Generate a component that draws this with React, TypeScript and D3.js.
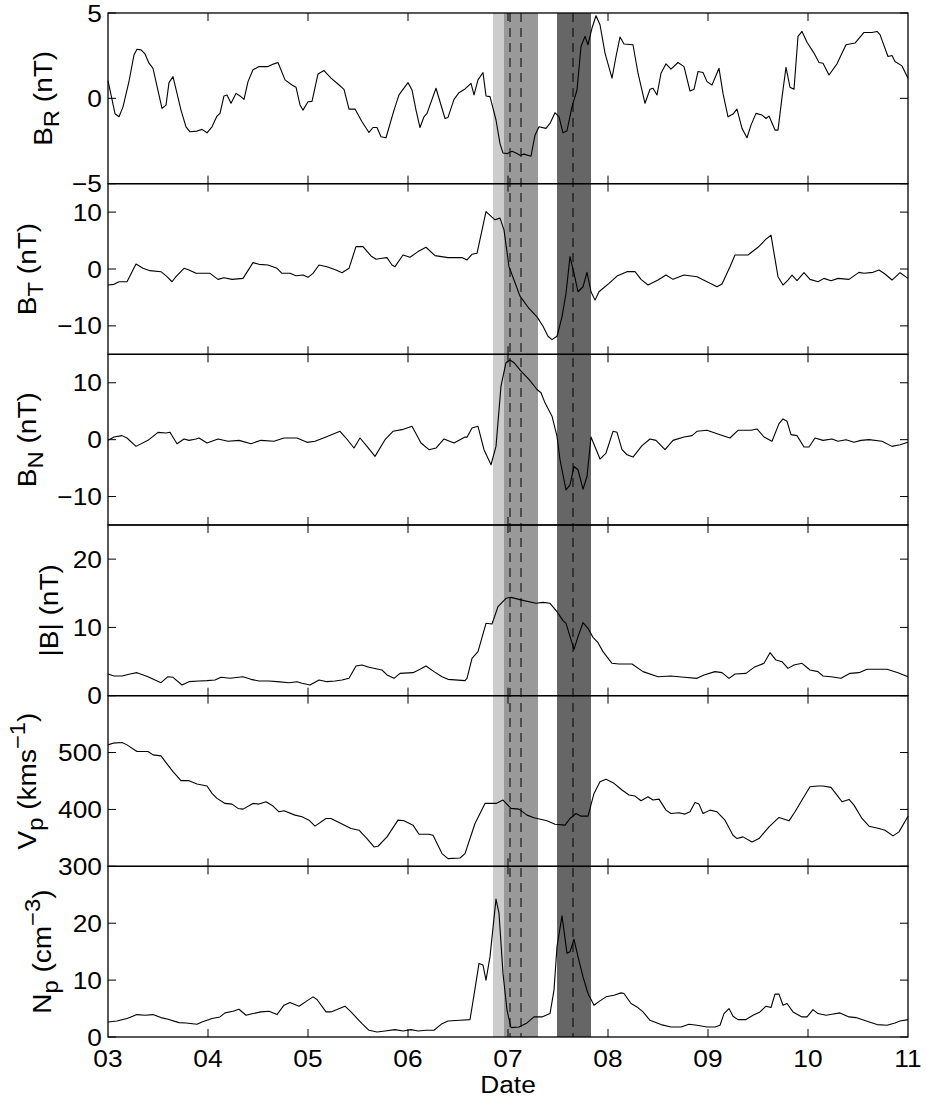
import React from 'react';
import * as d3 from 'd3';

// overall page / plot frame
const width = 926;
const height = 1099;
const margin = {top: 13, right: 18, bottom: 62, left: 108};
const font = 'Liberation Sans, Arial, Helvetica, sans-serif';
// the original text is set a little wider than Liberation Sans
const stretch = 1.12;

// x axis: days of the month
const dayTicks = [3, 4, 5, 6, 7, 8, 9, 10, 11];
const dayLabels = ['03', '04', '05', '06', '07', '08', '09', '10', '11'];

// shaded intervals [start, end, colour] and dashed markers (days)
const bands: [number, number, string][] = [
    [6.85, 6.96, '#cccccc'],
    [6.96, 7.30, '#999999'],
    [7.49, 7.83, '#666666'],
];
const markers = [7.02, 7.13, 7.65];

// series: [day, value]
const brData = [
    [3.00, 1.04], [3.07, -0.9], [3.11, -1.08], [3.15, -0.5], [3.21, 1.0], [3.26, 2.55], [3.29, 2.88], [3.33, 2.84],
    [3.37, 2.6], [3.41, 2.06], [3.45, 1.76], [3.54, -0.59], [3.58, -0.4], [3.61, 0.92], [3.65, 1.27], [3.73, -0.69],
    [3.78, -1.67], [3.82, -1.96], [3.89, -1.92], [3.94, -1.82], [3.99, -2.02], [4.04, -1.67], [4.09, -1.04], [4.12, -0.88],
    [4.16, 0.14], [4.19, 0.2], [4.23, -0.29], [4.28, 0.29], [4.32, 0.14], [4.36, -0.06], [4.40, 0.98], [4.45, 1.67],
    [4.51, 1.86], [4.60, 1.86], [4.66, 2.02], [4.70, 2.1], [4.77, 1.08], [4.84, 0.78], [4.88, 0.65], [4.92, -0.39],
    [4.95, -0.69], [5.00, -0.2], [5.04, -0.18], [5.10, 1.43], [5.16, 1.63], [5.23, 1.18], [5.30, 0.84], [5.36, 0.53],
    [5.41, -0.63], [5.47, -0.63], [5.54, -1.37], [5.61, -2.0], [5.65, -1.71], [5.69, -1.71], [5.73, -2.25], [5.78, -2.31],
    [5.86, -0.69], [5.91, 0.2], [6.00, 0.92], [6.04, 0.49], [6.08, -0.69], [6.12, -1.71], [6.16, -1.08], [6.19, -0.88],
    [6.28, 0.59], [6.37, -1.18], [6.40, -1.12], [6.46, -0.06], [6.51, 0.33], [6.57, 0.55], [6.63, 0.88], [6.66, 0.2],
    [6.70, 1.08], [6.75, 1.51], [6.78, 0.14], [6.82, 0.1], [6.88, -1.27], [6.92, -2.65], [6.95, -3.2], [6.99, -3.24],
    [7.04, -3.1], [7.08, -3.2], [7.12, -3.33], [7.16, -3.27], [7.23, -3.39], [7.27, -2.16], [7.31, -1.67], [7.38, -1.76],
    [7.42, -1.47], [7.47, -0.84], [7.51, -1.08], [7.55, -2.02], [7.59, -1.9], [7.64, -0.49], [7.69, 0.49], [7.73, 3.04],
    [7.77, 3.63], [7.80, 3.14], [7.84, 4.12], [7.88, 4.84], [7.92, 4.31], [7.97, 2.65], [8.04, 1.18], [8.08, 2.45],
    [8.12, 3.59], [8.16, 3.18], [8.25, 3.14], [8.30, 1.47], [8.37, -0.29], [8.42, 0.53], [8.45, 0.59], [8.49, 0.2],
    [8.53, 1.47], [8.58, 2.02], [8.63, 1.71], [8.70, 2.1], [8.76, 1.86], [8.82, 0.43], [8.86, 0.53], [8.90, 1.57],
    [8.95, 1.51], [8.99, 0.98], [9.04, 0.78], [9.11, 1.76], [9.15, 0.29], [9.20, -1.08], [9.25, -0.92], [9.29, -0.63],
    [9.34, -1.76], [9.39, -2.31], [9.43, -1.57], [9.48, -0.88], [9.54, -0.98], [9.58, -1.18], [9.61, -1.04], [9.67, -1.86],
    [9.70, -1.86], [9.74, 0.06], [9.78, 1.82], [9.82, 0.65], [9.86, 0.53], [9.90, 3.63], [9.94, 3.92], [9.99, 3.29],
    [10.06, 2.65], [10.11, 2.1], [10.15, 2.06], [10.21, 1.37], [10.29, 2.02], [10.38, 3.14], [10.47, 3.24], [10.56, 3.86],
    [10.64, 3.86], [10.69, 3.92], [10.72, 3.73], [10.80, 2.45], [10.84, 2.51], [10.87, 2.16], [10.94, 1.9], [11.00, 1.18],
];

const btData = [
    [3.00, -2.82], [3.06, -2.7], [3.11, -2.24], [3.19, -2.24], [3.28, 0.88], [3.35, 0.12], [3.42, -0.29], [3.53, -0.47],
    [3.59, -1.35], [3.64, -2.24], [3.68, -1.35], [3.76, 0.12], [3.81, -0.18], [3.88, -0.76], [4.02, -0.76], [4.10, -1.82],
    [4.16, -1.53], [4.24, -1.82], [4.35, -1.65], [4.45, 1.12], [4.51, 0.82], [4.60, 0.71], [4.69, 0.12], [4.74, -0.76],
    [4.82, -0.76], [4.88, -1.18], [4.95, -1.06], [5.00, -1.47], [5.05, -0.76], [5.11, 0.71], [5.19, 0.41], [5.28, -0.18],
    [5.34, -0.65], [5.41, 0.12], [5.48, 3.94], [5.55, 3.94], [5.63, 2.29], [5.68, 1.71], [5.74, 1.88], [5.79, 2.0],
    [5.84, 0.71], [5.87, 0.41], [5.95, 2.47], [6.02, 2.06], [6.10, 3.06], [6.18, 3.82], [6.27, 2.35], [6.40, 2.0],
    [6.54, 2.0], [6.59, 1.59], [6.64, 2.59], [6.69, 2.76], [6.78, 10.1], [6.87, 8.65], [6.92, 8.94], [6.96, 6.88],
    [7.01, 0.41], [7.06, -1.94], [7.12, -4.76], [7.21, -6.94], [7.29, -8.41], [7.35, -10.06], [7.40, -11.82], [7.44, -12.41],
    [7.49, -11.82], [7.54, -8.41], [7.58, -4.29], [7.62, 2.18], [7.66, -0.76], [7.70, -4.0], [7.75, -3.12], [7.79, -0.59],
    [7.83, -4.0], [7.87, -5.47], [7.91, -4.0], [8.01, -2.53], [8.09, -1.24], [8.19, -0.47], [8.27, -0.47], [8.33, -1.82],
    [8.40, -2.82], [8.50, -1.94], [8.58, -1.06], [8.65, -1.82], [8.76, -1.06], [8.89, -1.35], [8.99, -2.24], [9.09, -3.12],
    [9.14, -2.65], [9.22, 0.41], [9.27, 2.47], [9.40, 2.47], [9.50, 3.82], [9.58, 5.24], [9.63, 5.94], [9.70, -1.35],
    [9.75, -2.82], [9.80, -1.94], [9.84, -1.06], [9.89, -2.06], [9.96, -0.65], [10.02, -1.82], [10.10, -2.24], [10.16, -1.65],
    [10.23, -2.06], [10.30, -1.65], [10.41, -1.82], [10.51, -0.59], [10.56, -0.76], [10.65, -0.59], [10.71, -0.18], [10.77, -0.88],
    [10.84, -1.94], [10.92, -0.65], [11.00, -1.65],
];

const bnData = [
    [3.00, -0.12], [3.06, 0.47], [3.14, 0.71], [3.19, 0.29], [3.28, -1.18], [3.40, -0.12], [3.50, 1.29], [3.58, 1.18],
    [3.62, 1.29], [3.69, -0.71], [3.76, 0.12], [3.81, -0.12], [3.88, 0.12], [3.91, 0.29], [3.99, -0.59], [4.10, 0.12],
    [4.20, -0.29], [4.31, -0.12], [4.43, -0.71], [4.53, -0.12], [4.66, -0.29], [4.76, 0.29], [4.89, 0.29], [4.99, -0.47],
    [5.07, -0.29], [5.18, 0.47], [5.32, 1.47], [5.38, 0.29], [5.46, -1.47], [5.52, 0.29], [5.59, -1.18], [5.67, -2.94],
    [5.77, 0.0], [5.85, 1.47], [5.94, 1.76], [6.04, 2.35], [6.13, -0.59], [6.21, -1.76], [6.28, -1.47], [6.36, 0.12],
    [6.46, -0.59], [6.57, 0.47], [6.59, 0.41], [6.64, 2.06], [6.70, 2.35], [6.76, -1.76], [6.83, -4.41], [6.88, -1.18],
    [6.93, 9.41], [6.98, 13.53], [7.02, 14.0], [7.06, 13.53], [7.13, 12.06], [7.21, 10.59], [7.29, 8.82], [7.33, 8.24],
    [7.37, 6.47], [7.44, 4.12], [7.49, 0.59], [7.52, -3.53], [7.58, -8.82], [7.62, -7.94], [7.66, -4.71], [7.70, -5.29],
    [7.75, -8.71], [7.79, -6.47], [7.83, 0.47], [7.92, -3.41], [7.98, -2.35], [8.05, 1.47], [8.09, 1.29], [8.14, -1.76],
    [8.19, -2.65], [8.25, -3.06], [8.34, -1.06], [8.42, 0.12], [8.48, -0.12], [8.57, -1.76], [8.65, -0.12], [8.76, 0.47],
    [8.84, 0.71], [8.89, 1.47], [8.99, 1.65], [9.12, 0.88], [9.22, 0.29], [9.30, 1.65], [9.43, 1.65], [9.49, 1.88],
    [9.56, 0.47], [9.64, -0.29], [9.71, 2.82], [9.75, 3.65], [9.79, 3.24], [9.83, 0.88], [9.89, 0.71], [9.96, -1.29],
    [10.01, -1.29], [10.07, 0.29], [10.15, -0.12], [10.24, 0.12], [10.30, -0.29], [10.38, 0.0], [10.46, -0.47], [10.53, -0.12],
    [10.61, 0.0], [10.74, -0.29], [10.84, -1.18], [10.92, -0.88], [11.00, -0.47],
];

const bmagData = [
    [3.00, 3.17], [3.06, 2.88], [3.14, 2.88], [3.22, 3.17], [3.29, 3.37], [3.40, 2.78], [3.47, 2.29], [3.53, 1.9],
    [3.60, 2.78], [3.65, 2.69], [3.74, 1.56], [3.81, 2.05], [3.91, 2.15], [3.99, 2.2], [4.07, 2.29], [4.13, 2.69],
    [4.22, 2.54], [4.35, 2.78], [4.43, 2.39], [4.51, 2.15], [4.61, 2.15], [4.69, 2.05], [4.81, 1.9], [4.89, 2.05],
    [4.94, 1.81], [5.02, 1.56], [5.11, 2.29], [5.19, 2.05], [5.27, 2.15], [5.34, 2.29], [5.41, 2.54], [5.48, 4.35],
    [5.54, 4.49], [5.61, 4.15], [5.74, 3.76], [5.79, 3.03], [5.86, 2.54], [5.92, 3.27], [6.05, 3.37], [6.12, 3.86],
    [6.18, 4.35], [6.26, 3.52], [6.34, 2.78], [6.40, 2.39], [6.57, 2.2], [6.59, 2.54], [6.64, 5.47], [6.70, 6.45],
    [6.78, 10.6], [6.84, 10.5], [6.90, 13.04], [6.98, 14.26], [7.03, 14.4], [7.16, 13.92], [7.28, 13.53], [7.35, 13.67],
    [7.42, 13.53], [7.49, 12.3], [7.55, 10.99], [7.58, 10.6], [7.66, 6.79], [7.70, 8.64], [7.75, 10.69], [7.80, 9.86],
    [7.85, 8.54], [7.90, 7.76], [7.95, 6.45], [8.04, 4.74], [8.11, 4.64], [8.24, 4.64], [8.35, 3.52], [8.50, 2.78],
    [8.63, 2.88], [8.76, 2.69], [8.89, 2.54], [8.96, 3.03], [9.07, 3.52], [9.14, 3.37], [9.21, 2.54], [9.27, 3.17],
    [9.38, 3.27], [9.46, 4.15], [9.56, 4.74], [9.62, 6.3], [9.68, 5.22], [9.74, 4.98], [9.80, 4.0], [9.86, 4.49],
    [9.94, 4.74], [10.02, 3.76], [10.10, 3.52], [10.15, 2.88], [10.23, 2.78], [10.33, 2.54], [10.42, 3.27], [10.51, 3.37],
    [10.59, 3.86], [10.69, 3.86], [10.79, 3.86], [10.90, 3.37], [11.00, 2.78],
];

const vpData = [
    [3.00, 513.5], [3.05, 516.5], [3.14, 517.6], [3.19, 513.5], [3.29, 501.8], [3.40, 501.8], [3.45, 495.9], [3.53, 494.1],
    [3.58, 482.4], [3.65, 466.5], [3.73, 450.6], [3.81, 450.6], [3.89, 444.7], [3.99, 441.2], [4.04, 428.2], [4.09, 419.4],
    [4.17, 410.6], [4.24, 409.4], [4.30, 401.8], [4.35, 400.6], [4.45, 410.6], [4.51, 409.4], [4.58, 413.5], [4.65, 405.9],
    [4.71, 395.9], [4.76, 397.6], [4.87, 390.0], [4.94, 387.1], [5.01, 381.2], [5.07, 370.6], [5.18, 384.1], [5.23, 384.1],
    [5.33, 375.3], [5.43, 366.5], [5.51, 363.5], [5.59, 348.8], [5.66, 334.1], [5.70, 335.3], [5.79, 351.8], [5.90, 381.2],
    [5.96, 380.0], [6.05, 372.4], [6.11, 356.5], [6.21, 356.5], [6.25, 354.7], [6.34, 322.4], [6.40, 313.5], [6.52, 314.7],
    [6.57, 322.4], [6.67, 375.3], [6.77, 410.6], [6.88, 410.6], [6.95, 416.5], [7.03, 401.8], [7.11, 400.6], [7.19, 390.0],
    [7.26, 385.3], [7.39, 380.0], [7.47, 374.1], [7.57, 372.4], [7.62, 384.1], [7.68, 392.9], [7.73, 388.2], [7.80, 388.2],
    [7.86, 428.2], [7.92, 448.8], [7.98, 452.9], [8.06, 445.9], [8.14, 434.1], [8.21, 425.3], [8.27, 423.5], [8.33, 415.3],
    [8.40, 422.4], [8.45, 416.5], [8.51, 418.2], [8.58, 398.8], [8.63, 392.9], [8.71, 394.1], [8.77, 391.8], [8.82, 395.9],
    [8.87, 412.4], [8.91, 409.4], [8.95, 392.9], [9.02, 398.8], [9.09, 395.9], [9.17, 381.2], [9.25, 354.7], [9.29, 348.8],
    [9.35, 351.8], [9.44, 342.9], [9.51, 348.8], [9.61, 369.4], [9.71, 385.9], [9.81, 380.0], [9.87, 395.9], [9.94, 416.5],
    [10.02, 440.0], [10.10, 441.2], [10.15, 441.2], [10.23, 438.8], [10.29, 425.3], [10.34, 413.5], [10.41, 417.6], [10.46, 407.6],
    [10.54, 384.1], [10.61, 370.6], [10.71, 366.5], [10.77, 363.5], [10.85, 353.5], [10.91, 360.6], [11.00, 388.2],
];

const npData = [
    [3.00, 2.65], [3.09, 2.82], [3.19, 3.24], [3.29, 3.94], [3.37, 3.82], [3.45, 3.94], [3.53, 3.41], [3.60, 3.12],
    [3.71, 2.53], [3.78, 2.47], [3.89, 2.24], [3.94, 2.65], [4.04, 3.24], [4.12, 3.53], [4.17, 4.24], [4.25, 4.53],
    [4.31, 4.88], [4.38, 3.82], [4.45, 4.12], [4.53, 4.41], [4.61, 4.53], [4.69, 3.94], [4.76, 5.59], [4.82, 6.06],
    [4.91, 5.41], [4.99, 6.35], [5.05, 7.06], [5.09, 6.59], [5.18, 4.41], [5.23, 4.41], [5.29, 4.82], [5.37, 5.41],
    [5.43, 4.41], [5.54, 2.35], [5.61, 1.18], [5.69, 0.88], [5.77, 1.06], [5.87, 1.29], [5.95, 1.06], [6.03, 1.29],
    [6.10, 1.06], [6.18, 1.18], [6.26, 1.18], [6.34, 2.35], [6.40, 2.82], [6.52, 2.94], [6.62, 3.06], [6.66, 7.35],
    [6.71, 12.94], [6.75, 12.65], [6.78, 10.0], [6.82, 14.12], [6.88, 24.24], [6.91, 21.76], [6.95, 11.18], [6.99, 4.71],
    [7.03, 1.65], [7.11, 1.76], [7.19, 2.47], [7.26, 3.53], [7.34, 3.53], [7.42, 4.12], [7.46, 8.24], [7.49, 15.88],
    [7.54, 21.29], [7.59, 14.71], [7.62, 15.0], [7.66, 17.18], [7.70, 14.12], [7.75, 10.59], [7.80, 7.65], [7.86, 5.59],
    [7.92, 6.35], [7.98, 7.06], [8.06, 7.35], [8.13, 7.76], [8.16, 7.65], [8.23, 5.88], [8.29, 5.29], [8.35, 4.41],
    [8.42, 2.94], [8.53, 2.18], [8.63, 1.76], [8.73, 1.76], [8.81, 2.24], [8.89, 2.06], [8.99, 1.76], [9.07, 1.76],
    [9.12, 2.06], [9.16, 4.12], [9.21, 5.0], [9.25, 3.65], [9.30, 3.06], [9.38, 3.06], [9.45, 3.82], [9.52, 4.41],
    [9.58, 5.41], [9.63, 5.18], [9.67, 7.53], [9.71, 7.53], [9.75, 5.59], [9.79, 5.88], [9.85, 4.41], [9.94, 3.53],
    [9.99, 3.53], [10.05, 4.82], [10.10, 4.12], [10.18, 3.82], [10.24, 4.0], [10.32, 4.24], [10.41, 3.53], [10.48, 3.41],
    [10.59, 2.76], [10.69, 2.18], [10.79, 2.06], [10.87, 2.47], [10.92, 2.82], [11.00, 3.06],
];

// y-axis ranges and labelled ticks for each panel
const brDomain = [-5, 5], brTicks = [-5, 0, 5];
const btDomain = [-15, 15], btTicks = [-10, 0, 10];
const bnDomain = [-15, 15], bnTicks = [-10, 0, 10];
const bmagDomain = [0, 25], bmagTicks = [0, 10, 20];
const vpDomain = [300, 600], vpTicks = [300, 400, 500];
const npDomain = [0, 30], npTicks = [0, 10, 20];

type Label = {main: string, sub?: string, mid: string, sup?: string, tail?: string};

const panels = [
    {data: brData, domain: brDomain, ticks: brTicks, label: {main: 'B', sub: 'R', mid: ' (nT)'} as Label, labelX: 52},
    {data: btData, domain: btDomain, ticks: btTicks, label: {main: 'B', sub: 'T', mid: ' (nT)'} as Label, labelX: 36},
    {data: bnData, domain: bnDomain, ticks: bnTicks, label: {main: 'B', sub: 'N', mid: ' (nT)'} as Label, labelX: 36},
    {data: bmagData, domain: bmagDomain, ticks: bmagTicks, label: {main: '|B| (nT)', mid: ''} as Label, labelX: 58},
    {data: vpData, domain: vpDomain, ticks: vpTicks, label: {main: 'V', sub: 'p', mid: ' (kms', sup: '\u22121', tail: ')'} as Label, labelX: 36},
    {data: npData, domain: npDomain, ticks: npTicks, label: {main: 'N', sub: 'p', mid: ' (cm', sup: '\u22123', tail: ')'} as Label, labelX: 51},
];

const labelSize = 25;
const tickSize = 23.5;

const AxisLabel = ({label, x, y}: {label: Label, x: number, y: number}) => {
    const small = labelSize * 0.85;
    const subShift = 7;
    const supShift = 11;
    return (
        <text transform={`translate(${x},${y}) rotate(-90) scale(${stretch},1)`} textAnchor="middle"
              fontFamily={font} fontSize={labelSize} fill="#000">
            <tspan>{label.main}</tspan>
            {label.sub && <tspan dy={subShift} fontSize={small}>{label.sub}</tspan>}
            {label.mid && <tspan dy={label.sub ? -subShift : 0}>{label.mid}</tspan>}
            {label.sup && <tspan dy={-supShift} fontSize={small}>{label.sup}</tspan>}
            {label.tail && <tspan dy={supShift}>{label.tail}</tspan>}
        </text>
    );
};

const Txt = ({x, y, anchor, children}: {x: number, y: number, anchor: string, children: React.ReactNode}) => (
    <text transform={`translate(${x},${y}) scale(${stretch},1)`} textAnchor={anchor}
          fontFamily={font} fontSize={tickSize} fill="#000">{children}</text>
);

const App = () => {
    const innerW = width - margin.left - margin.right;
    const innerH = height - margin.top - margin.bottom;
    const panelH = innerH / panels.length;

    const x = d3.scaleLinear().domain([3, 11]).range([margin.left, margin.left + innerW]);
    const fmt = d3.format('d');
    const tickLen = 8;

    return (
        <div style={{position: 'absolute', left: 0, top: 0}}>
            <svg width={width} height={height} style={{display: 'block', background: '#fff'}}>
                {/* shaded intervals across all panels */}
                {bands.map(([a, b, c], i) => (
                    <rect key={'band' + i} x={x(a)} y={margin.top} width={x(b) - x(a)} height={innerH} fill={c}/>
                ))}
                {markers.map((m, i) => (
                    <line key={'m' + i} x1={x(m)} x2={x(m)} y1={margin.top} y2={margin.top + innerH}
                          stroke="#000" strokeWidth={1} strokeDasharray="9,6"/>
                ))}

                {panels.map((p, i) => {
                    const y0 = margin.top + i * panelH;
                    const y = d3.scaleLinear().domain(p.domain).range([y0 + panelH, y0]);
                    const line = d3.line<number[]>().x(d => x(d[0])).y(d => y(d[1]));
                    return (
                        <g key={'p' + i}>
                            <path d={line(p.data as number[][]) || ''} fill="none" stroke="#000" strokeWidth={1.1}
                                  strokeLinejoin="round"/>
                            <rect x={margin.left} y={y0} width={innerW} height={panelH} fill="none"
                                  stroke="#000" strokeWidth={1.3}/>
                            {dayTicks.slice(1, -1).map(t => (
                                <g key={'xt' + t}>
                                    <line x1={x(t)} x2={x(t)} y1={y0} y2={y0 + tickLen} stroke="#000"/>
                                    <line x1={x(t)} x2={x(t)} y1={y0 + panelH} y2={y0 + panelH - tickLen} stroke="#000"/>
                                </g>
                            ))}
                            {p.ticks.map(t => (
                                <g key={'yt' + t}>
                                    <line x1={margin.left} x2={margin.left + tickLen} y1={y(t)} y2={y(t)} stroke="#000"/>
                                    <line x1={margin.left + innerW} x2={margin.left + innerW - tickLen} y1={y(t)} y2={y(t)}
                                          stroke="#000"/>
                                    <Txt x={margin.left - 6} y={y(t) + 8.5} anchor="end">{fmt(t)}</Txt>
                                </g>
                            ))}
                            <AxisLabel label={p.label} x={p.labelX} y={y0 + panelH / 2}/>
                        </g>
                    );
                })}

                {dayTicks.map((t, i) => (
                    <Txt key={'xl' + t} x={x(t)} y={margin.top + innerH + 30} anchor="middle">{dayLabels[i]}</Txt>
                ))}
                <Txt x={margin.left + innerW / 2} y={margin.top + innerH + 56} anchor="middle">Date</Txt>
            </svg>
        </div>
    );
};

export default App;
